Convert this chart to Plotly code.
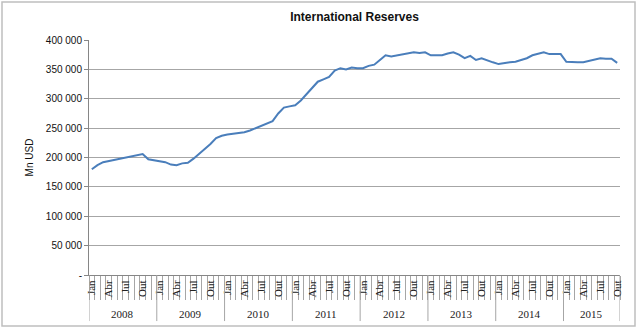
import plotly.graph_objects as go

years = [2008, 2009, 2010, 2011, 2012, 2013, 2014, 2015]
months = ["Jan", "Fev", "Mar", "Abr", "Mai", "Jun", "Jul", "Ago", "Set", "Out", "Nov", "Dez"]
shown_months = ["Jan", "Abr", "Jul", "Out"]
y_ticks = [0, 50000, 100000, 150000, 200000, 250000, 300000, 350000, 400000]

reserves = [
    # 2008
    180000, 187000, 192000, 194000, 196000, 197000, 199000, 202000, 204000, 206000, 197000, 195000,
    # 2009
    194000, 192000, 188000, 187000, 190000, 191000, 198000, 206000, 214000, 223000, 233000, 237000,
    # 2010
    239000, 240000, 241000, 243000, 246000, 250000, 253000, 257000, 262000, 275000, 285000, 287000,
    # 2011
    289000, 297000, 308000, 318000, 329000, 333000, 337000, 348000, 352000, 350000, 353000, 352000,
    # 2012
    352000, 356000, 358000, 366000, 374000, 372000, 374000, 376000, 378000, 379000, 378000, 379000,
    # 2013
    374000, 374000, 374000, 377000, 379000, 375000, 369000, 373000, 366000, 369000, 365000, 362000,
    # 2014
    359000, 361000, 362000, 363000, 366000, 369000, 374000, 377000, 379000, 376000, 376000, 376000,
    # 2015
    363000, 362000, 362000, 362000, 364000, 367000, 369000, 368000, 368000, 361000,
]

n = len(reserves)
idx = list(range(n))
month_of = [months[i % 12] for i in idx]
tickvals = [i for i in idx if month_of[i] in shown_months]
ticktext = [month_of[i] for i in tickvals]

def fmt(v):
    if v == 0:
        return "-"
    return f"{v:,}".replace(",", " ")

fig = go.Figure()
fig.add_trace(go.Scatter(x=idx, y=reserves, mode="lines",
                         line=dict(color="#4a7ebb", width=2), showlegend=False))

grid_c = "#a6a6a6"
axis_c = "#868686"

fig.update_layout(
    width=640, height=329,
    margin=dict(l=89, r=20, t=40, b=54),
    paper_bgcolor="white", plot_bgcolor="white",
    title=dict(text="<b>International Reserves</b>", x=0.5, xref="paper", xanchor="center",
               y=1 - 17 / 329, yanchor="middle",
               font=dict(family="Liberation Sans", size=12, color="#111")),
    xaxis=dict(range=[-0.5, n - 0.5], tickmode="array", tickvals=tickvals, ticktext=ticktext,
               tickangle=-90, ticks="", showgrid=False, zeroline=False,
               showline=True, linecolor=axis_c, linewidth=1,
               tickfont=dict(family="Liberation Serif", size=11, color="#222"),
               minor=dict(tickmode="array", tickvals=[i - 0.5 for i in range(n + 1)],
                          ticks="outside", ticklen=24, tickcolor=grid_c, tickwidth=1,
                          showgrid=False)),
    yaxis=dict(range=[0, 400000], tickmode="array", tickvals=y_ticks,
               ticktext=[fmt(v) for v in y_ticks], ticks="outside", ticklen=4,
               tickcolor=axis_c, showgrid=True, gridcolor=grid_c, gridwidth=1,
               zeroline=False, showline=True, linecolor=axis_c, linewidth=1,
               tickfont=dict(family="Liberation Sans", size=10, color="#111"),
               title=dict(text="Mn USD", standoff=10,
                          font=dict(family="Liberation Sans", size=10, color="#111"))),
)

# year separators and labels
for k, yr in enumerate(years):
    start = 12 * k
    end = min(12 * (k + 1), n)
    fig.add_shape(type="line", xref="x", yref="paper", x0=start - 0.5, x1=start - 0.5,
                  y0=0, y1=-0.196, line=dict(color=grid_c, width=1))
    fig.add_annotation(x=(start + end - 1) / 2, xref="x", y=-0.166, yref="paper",
                       text=str(yr), showarrow=False, yanchor="middle",
                       font=dict(family="Liberation Serif", size=11, color="#222"))
fig.add_shape(type="line", xref="x", yref="paper", x0=n - 0.5, x1=n - 0.5,
              y0=0, y1=-0.196, line=dict(color=grid_c, width=1))

# outer chart border
fig.add_shape(type="rect", xref="paper", yref="paper",
              x0=(2 - 89) / 531, x1=(635 - 89) / 531,
              y0=(275 - 326) / 235, y1=(275 - 2) / 235,
              line=dict(color="#bfbfbf", width=1.5), layer="below")

fig.write_html("out.html")
